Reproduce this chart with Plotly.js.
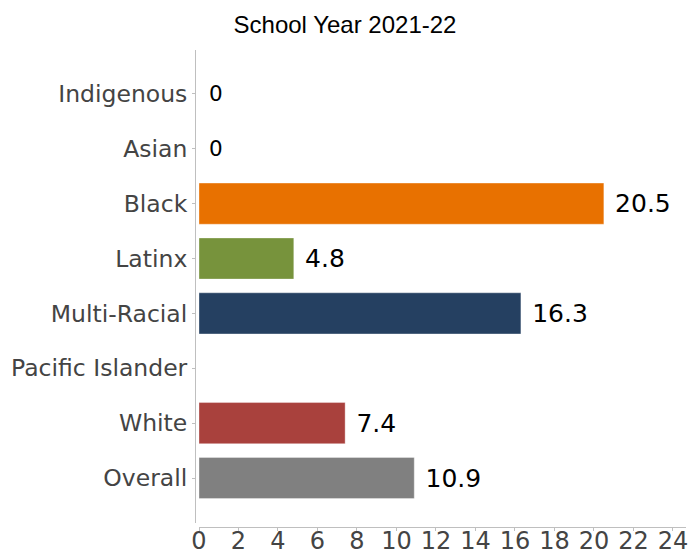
<!DOCTYPE html>
<html>
<head>
<meta charset="utf-8">
<script src="https://cdn.plot.ly/plotly-3.0.1.min.js"></script>
<style>html,body{margin:0;padding:0;background:#fff;}#chart{width:690px;height:555px;}</style>
</head>
<body>
<div id="chart"></div>
<script>
const categories = ["Indigenous", "Asian", "Black", "Latinx", "Multi-Racial", "Pacific Islander", "White", "Overall"];
const values = [0, 0, 20.5, 4.8, 16.3, null, 7.4, 10.9];
const barColors = ["#808080", "#808080", "#E87100", "#77933C", "#254061", "#808080", "#A9413D", "#808080"];
const xTickValues = [0, 2, 4, 6, 8, 10, 12, 14, 16, 18, 20, 22, 24];
const titleText = "School Year 2021-22";

const labels = values.map(v => (v === null ? "" : "\u2004" + v));
const labelSizes = values.map(v => (v === 0 ? 21.5 : 25));

const trace = {
  type: "bar",
  orientation: "h",
  x: values,
  y: categories,
  width: 0.75,
  marker: { color: barColors, line: { color: "rgba(255,255,255,0.35)", width: 1 } },
  text: labels,
  textposition: "outside",
  textfont: { family: "DejaVu Sans", size: labelSizes, color: "#000" },
  constraintext: "none",
  cliponaxis: false,
  hoverinfo: "none"
};

// invisible helper trace so the tick-label axis (x2) is drawn
const labelAxisTrace = {
  type: "scatter",
  mode: "markers",
  x: values,
  y: categories,
  xaxis: "x2",
  yaxis: "y",
  marker: { opacity: 0, size: 1 },
  hoverinfo: "none",
  showlegend: false
};

const L = 195, R = 4, T = 50, B = 28;
const plotW = 690 - L - R, plotH = 555 - T - B;
const xRange = [0, 24.66];

const layout = {
  width: 690, height: 555,
  margin: { l: L, r: R, t: T, b: B, pad: 0 },
  paper_bgcolor: "#fff", plot_bgcolor: "#fff",
  showlegend: false,
  title: {
    text: titleText,
    font: { family: "Liberation Sans", size: 24, color: "#000" },
    x: 0.5, xref: "container", xanchor: "center",
    y: 0.9555, yref: "container", yanchor: "middle"
  },
  xaxis: {
    domain: [4 / plotW, 1],
    range: xRange,
    anchor: "free", position: 0,
    tickvals: xTickValues,
    showticklabels: false,
    showgrid: false, zeroline: false,
    showline: true, linecolor: "#bfbfbf", linewidth: 1,
    ticks: "outside", ticklen: 3, tickcolor: "#bfbfbf",
    automargin: false, fixedrange: true
  },
  xaxis2: {
    domain: [4 / plotW, 1],
    range: xRange,
    overlaying: "x",
    side: "bottom",
    anchor: "free", position: 3 / plotH,
    tickvals: xTickValues,
    ticktext: xTickValues.map(String),
    showgrid: false, zeroline: false, showline: false,
    ticks: "",
    tickfont: { family: "DejaVu Sans", size: 24, color: "#444" },
    automargin: false, fixedrange: true
  },
  yaxis: {
    domain: [4 / plotH, 1],
    type: "category",
    range: [7.82, -0.8],
    anchor: "free", position: 0,
    showgrid: false, zeroline: false,
    showline: true, linecolor: "#bfbfbf", linewidth: 1,
    ticks: "outside", ticklen: 3, tickcolor: "#bfbfbf",
    tickfont: { family: "DejaVu Sans", size: 23.5, color: "#444" },
    automargin: false, fixedrange: true
  }
};

Plotly.newPlot("chart", [trace, labelAxisTrace], layout, { displayModeBar: false, staticPlot: true });
</script>
</body>
</html>
